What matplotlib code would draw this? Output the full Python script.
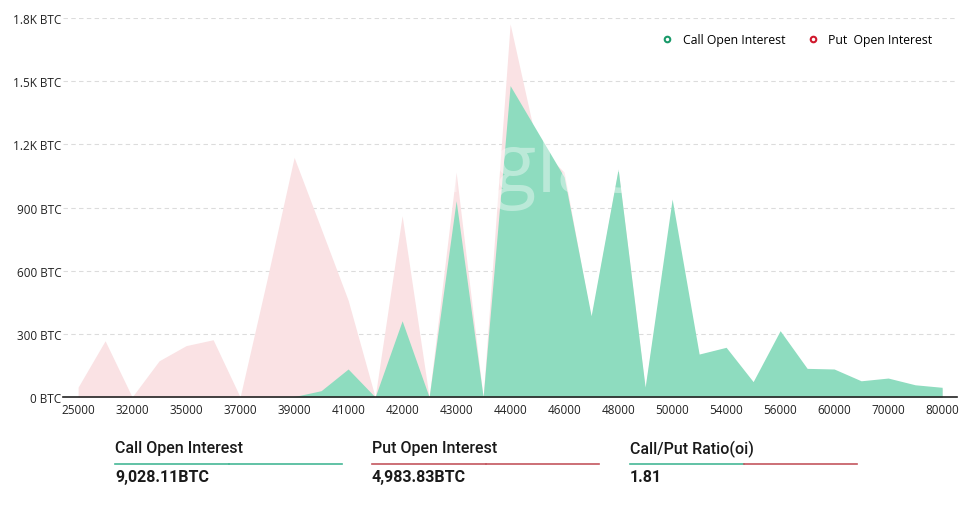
import matplotlib
matplotlib.use('Agg')
from matplotlib import pyplot as plt
from matplotlib.lines import Line2D
import numpy as np

strikes = ['25000', '30000', '32000', '34000', '35000', '36000', '37000', '38000',
           '39000', '40000', '41000', '41500', '42000', '42500', '43000', '43500',
           '44000', '45000', '46000', '47000', '48000', '49000', '50000', '52000',
           '54000', '55000', '56000', '58000', '60000', '65000', '70000', '75000', '80000']
call_oi = [0, 0, 0, 0, 0, 0, 0, 0,
           2, 30, 133, 0, 362, 0, 932, 0,
           1479, 1262, 1045, 386, 1083, 47, 940, 204,
           236, 73, 315, 136, 133, 77, 90, 58, 46]
put_oi = [47, 267, 0, 172, 244, 272, 0, 560,
          1138, 800, 460, 0, 861, 0, 1068, 0,
          1772, 1194, 1068, 370, 1080, 40, 900, 190,
          220, 60, 290, 120, 120, 70, 80, 50, 40]
y_ticks = [0, 300, 600, 900, 1200, 1500, 1800]
y_tick_labels = ['0 BTC', '300 BTC', '600 BTC', '900 BTC', '1.2K BTC', '1.5K BTC', '1.8K BTC']
summary_titles = ['Call Open Interest', 'Put Open Interest', 'Call/Put Ratio(oi)']
summary_values = ['9,028.11BTC', '4,983.83BTC', '1.81']

green = '#8edcbf'
pink = '#fae2e4'

fig = plt.figure(figsize=(9.65, 5.06), dpi=100)
ax = fig.add_axes([63/965, 108/506, 894/965, 379/506])
x = np.arange(len(strikes))

ax.fill_between(x, put_oi, 0, color=pink, lw=0, zorder=1)
ax.fill_between(x, call_oi, 0, color=green, lw=0, zorder=2)

ax.set_xlim(-0.56, len(strikes) - 1 + 0.55)
ax.set_ylim(0, 1800)
ax.set_yticks(y_ticks)
ax.set_yticklabels(y_tick_labels)
ax.set_xticks(x[::2])
ax.set_xticklabels(strikes[::2])
ax.tick_params(axis='both', length=0, labelsize=8.5, colors='#222222')
ax.tick_params(axis='y', pad=1)
ax.tick_params(axis='x', pad=4)
for lab in ax.get_xticklabels() + ax.get_yticklabels():
    lab.set_family('Open Sans')

for yv in y_ticks[1:]:
    ax.axhline(yv, color='#dcdcdc', lw=0.8, ls=(0, (4, 3)), zorder=0)
for s in ['top', 'right', 'left']:
    ax.spines[s].set_visible(False)
ax.spines['bottom'].set_color('#222222')
ax.spines['bottom'].set_linewidth(1.2)

# watermark
ax.text(0.6, 0.6, 'coinglass.com', transform=ax.transAxes, ha='center', va='center',
        fontsize=58, color='white', alpha=0.4, family='Open Sans', zorder=3)

handles = [Line2D([], [], marker='o', ls='', markersize=4, markerfacecolor='white',
                  markeredgecolor='#1a9a6a', markeredgewidth=1.5),
           Line2D([], [], marker='o', ls='', markersize=4, markerfacecolor='white',
                  markeredgecolor='#d0182c', markeredgewidth=1.5)]
leg = ax.legend(handles, ['Call Open Interest', 'Put  Open Interest'], loc='upper right',
                bbox_to_anchor=(0.985, 0.99), ncol=2, frameon=False, handletextpad=0.3,
                columnspacing=1.2, prop={'family': 'Open Sans', 'size': 8.8})

# summary row
col_x = [115, 372, 630]
line_colors = [('#45b896', '#45b896'), ('#c4565f', '#c4565f'), ('#45b896', '#c4565f')]
for i in range(3):
    fx = col_x[i] / 965
    fig.text(fx, 1 - 449/506, summary_titles[i], ha='left', va='center', fontsize=11.5,
             family='Roboto', fontweight='medium', color='#1a1a1a')
    fig.text(fx, 1 - 478/506, summary_values[i], ha='left', va='center', fontsize=11.5,
             family='Roboto', fontweight='bold', color='#1a1a1a')
    w = 227 / 965
    c1, c2 = line_colors[i]
    fig.add_artist(Line2D([fx, fx + w/2], [1 - 465/506] * 2, color=c1, lw=1.2))
    fig.add_artist(Line2D([fx + w/2, fx + w], [1 - 465/506] * 2, color=c2, lw=1.2))

fig.savefig('out.png', dpi=100)
